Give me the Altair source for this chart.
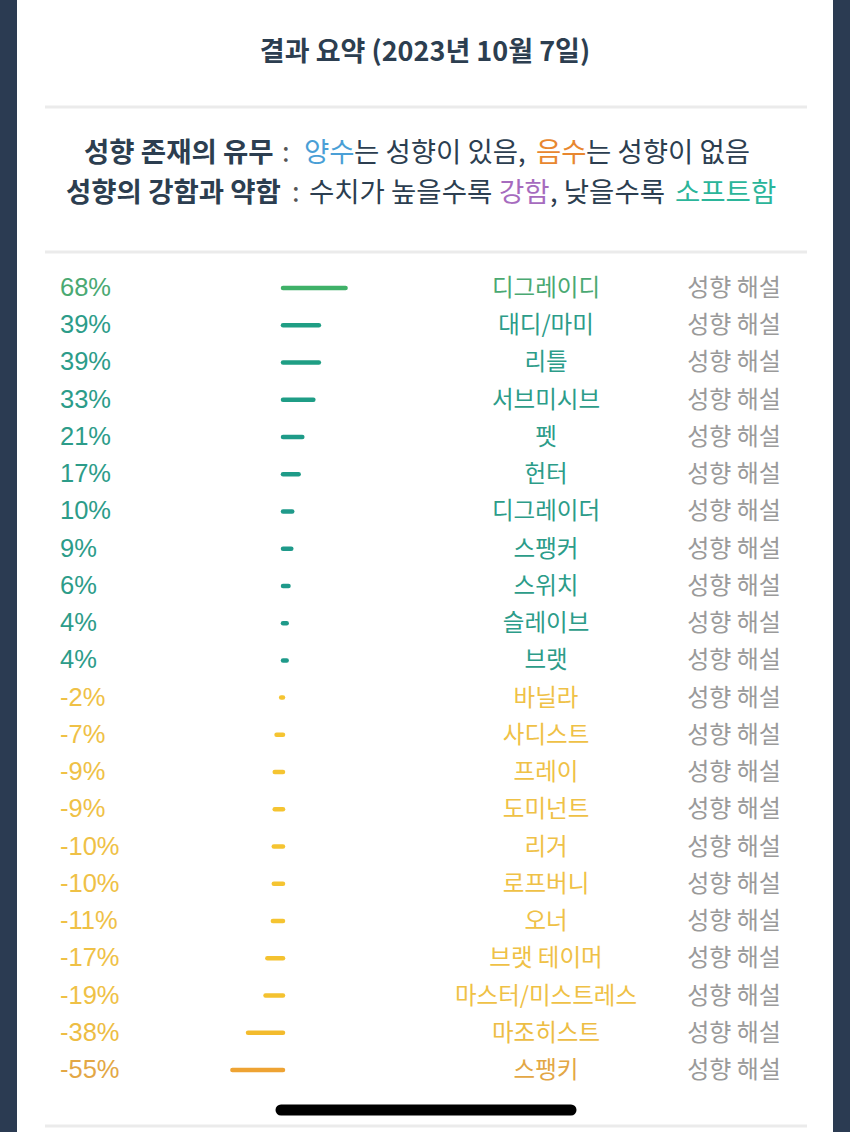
import altair as alt
import pandas as pd

# ---- data ----
names = ["디그레이디", "대디/마미", "리틀", "서브미시브", "펫", "헌터", "디그레이더", "스팽커",
         "스위치", "슬레이브", "브랫", "바닐라", "사디스트", "프레이", "도미넌트", "리거",
         "로프버니", "오너", "브랫 테이머", "마스터/미스트레스", "마조히스트", "스팽키"]
values = [68, 39, 39, 33, 21, 17, 10, 9, 6, 4, 4, -2, -7, -9, -9, -10, -10, -11, -17, -19, -38, -55]
labels = [f"{v}%" for v in values]

bar_colors = ["#3fb168", "#1f9e84", "#1f9e84", "#1f9d86", "#1e9b88", "#1e9b88", "#1f9a8a", "#1f9a8a",
              "#1f9a8a", "#1f9a8a", "#1f9a8a", "#f5c431", "#f5c431", "#f5c431", "#f5c431", "#f5c431",
              "#f5c431", "#f5c431", "#f4c230", "#f4c230", "#f3bb2d", "#eea333"]
text_colors = ["#4aa972", "#2c9c89", "#2c9c89", "#2c9c89", "#2c9c89", "#2c9c89", "#2c9c89", "#2c9c89",
               "#2c9c89", "#2c9c89", "#2c9c89", "#efc146", "#efc146", "#efc146", "#efc146", "#efc146",
               "#efc146", "#efc146", "#efc146", "#efc146", "#edbd44", "#e3a745"]

title_text = "결과 요약 (2023년 10월 7일)"
detail_text = "성향 해설"

df = pd.DataFrame({"name": names, "value": values, "label": labels,
                   "bar_color": bar_colors, "text_color": text_colors})

KR = "Noto Sans CJK KR"
one = pd.DataFrame({"k": [0]})

yscale = alt.Scale(type="point", domain=names, range=[288, 1070], padding=0)
xscale = alt.Scale(domain=[-100, 100], range=[191, 375])
Y = alt.Y("name:N", scale=yscale, axis=None, sort=None)

# ---- decorations ----
card = alt.Chart(one).mark_rect(color="white", cornerRadius=30).encode(
    x=alt.value(17), x2=alt.value(833), y=alt.value(-40), y2=alt.value(1200))

def sep(yv):
    return alt.Chart(one).mark_rule(color="#ebebeb", strokeWidth=3).encode(
        x=alt.value(45), x2=alt.value(807), y=alt.value(yv))

def txt(s, xv, yv, color="#2c3e50", size=27.5, weight="normal", align="left", font=KR):
    return alt.Chart(one).mark_text(text=s, align=align, baseline="middle", font=font,
                                    fontSize=size, fontWeight=weight, color=color).encode(
        x=alt.value(xv), y=alt.value(yv))

title = txt(title_text, 425, 53, size=27, weight="bold", align="center")

dark = "#2c3e50"
l1 = 154
l2 = 194
fs = 27.5
legend_layers = [
    txt("성향 존재의 유무", 84, l1, dark, fs, "bold"),
    txt(":", 282, l1, "#555555", fs),
    txt("양수", 304, l1, "#4a9fd6", fs),
    txt("는 성향이 있음,", 354, l1, dark, fs),
    txt("음수", 536, l1, "#e8872f", fs),
    txt("는 성향이 없음", 586, l1, dark, fs),
    txt("성향의 강함과 약함", 66, l2, dark, fs, "bold"),
    txt(":", 292, l2, "#555555", fs),
    txt("수치가 높을수록", 309, l2, dark, fs),
    txt("강함", 499, l2, "#a66bbe", fs),
    txt(", 낮을수록", 550, l2, dark, fs),
    txt("소프트함", 675, l2, "#2bb59a", fs),
]

# ---- rows ----
base = alt.Chart(df)
bars = base.mark_rule(strokeWidth=4.5, strokeCap="round").encode(
    x=alt.X("value:Q", scale=xscale, axis=None),
    x2=alt.X2(datum=0),
    y=Y,
    color=alt.Color("bar_color:N", scale=None),
)
pct = base.mark_text(align="left", baseline="middle", font="Liberation Sans", fontSize=25.5).encode(
    x=alt.value(60), y=Y, text="label:N", color=alt.Color("text_color:N", scale=None))
nm = base.mark_text(align="center", baseline="middle", font=KR, fontSize=23.5, dy=1).encode(
    x=alt.value(546), y=Y, text="name:N", color=alt.Color("text_color:N", scale=None))
det = base.mark_text(align="center", baseline="middle", font=KR, fontSize=24, dy=1,
                     color="#9a9a9a").encode(
    x=alt.value(734), y=Y, text=alt.value(detail_text))

home = alt.Chart(one).mark_rule(color="black", strokeWidth=11, strokeCap="round").encode(
    x=alt.value(281), x2=alt.value(571), y=alt.value(1110))

chart = alt.layer(card, sep(107), sep(252), sep(1126), title, *legend_layers,
                  bars, pct, nm, det, home).properties(
    width=850, height=1132, padding=0, autosize="none", background="#2b3b52"
).configure_view(stroke=None)

chart.save("out.html", embed_options={"renderer": "svg", "actions": False})
